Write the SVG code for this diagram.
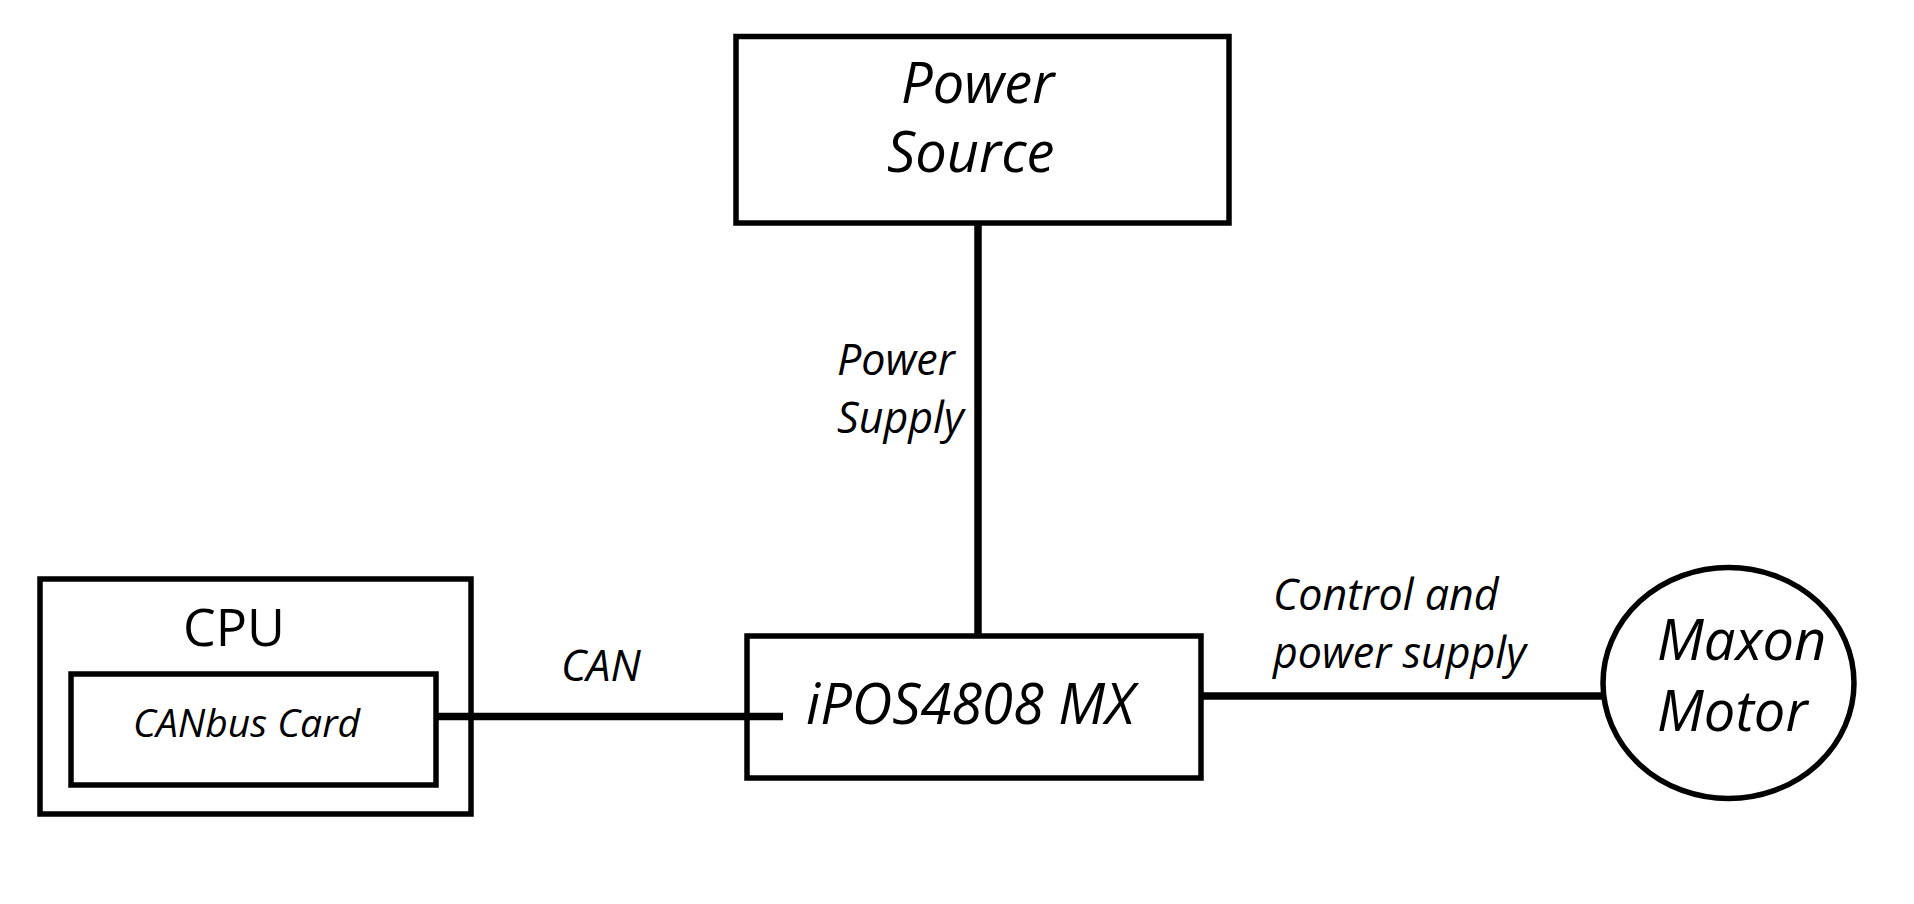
<svg xmlns="http://www.w3.org/2000/svg" width="1914" height="904" viewBox="0 0 1914 904">
<style>
  .box { fill: none; stroke: #000; stroke-width: 5.5; }
  .wire { stroke: #000; stroke-width: 7.5; fill: none; stroke-linecap: butt; }
  .t { font-family: "Open Sans", "Noto Sans", "DejaVu Sans", sans-serif; fill: #000; }
  .it { font-style: italic; }
  .big { font-size: 56px; }
  .lbl { font-size: 43px; }
</style>
<rect width="1914" height="904" fill="#fff"/>
<g id="connectors">
  <line class="wire" x1="978" y1="221" x2="978" y2="636"/>
  <line class="wire" x1="436" y1="716.5" x2="783" y2="716.5" stroke-linecap="round"/>
  <line class="wire" x1="1201" y1="696" x2="1603" y2="696"/>
  <text class="t it lbl" x="837" y="375">Power</text>
  <text class="t it lbl" x="837" y="433">Supply</text>
  <text class="t it lbl" x="561" y="681">CAN</text>
  <text class="t it lbl" x="1273" y="610">Control and</text>
  <text class="t it lbl" x="1273" y="668">power supply</text>
</g>
<g id="power-source">
  <rect class="box" x="736" y="36.5" width="493" height="186.5"/>
  <text class="t it big" x="901" y="102.5">Power</text>
  <text class="t it big" x="887" y="172">Source</text>
</g>
<g id="cpu">
  <rect class="box" x="40" y="579" width="431" height="235"/>
  <text class="t" x="183" y="646" font-size="52">CPU</text>
</g>
<g id="canbus-card">
  <rect class="box" x="71" y="674" width="365" height="111"/>
  <text class="t it" x="133" y="737" font-size="39">CANbus Card</text>
</g>
<g id="ipos">
  <rect class="box" x="747" y="636" width="454" height="142"/>
  <text class="t it" x="806" y="724" font-size="56">iPOS4808 MX</text>
</g>
<g id="maxon-motor">
  <ellipse class="box" cx="1728.5" cy="683" rx="125.5" ry="115.5" stroke-width="4.5"/>
  <text class="t it big" x="1657" y="660">Maxon</text>
  <text class="t it big" x="1657" y="731">Motor</text>
</g>
</svg>
